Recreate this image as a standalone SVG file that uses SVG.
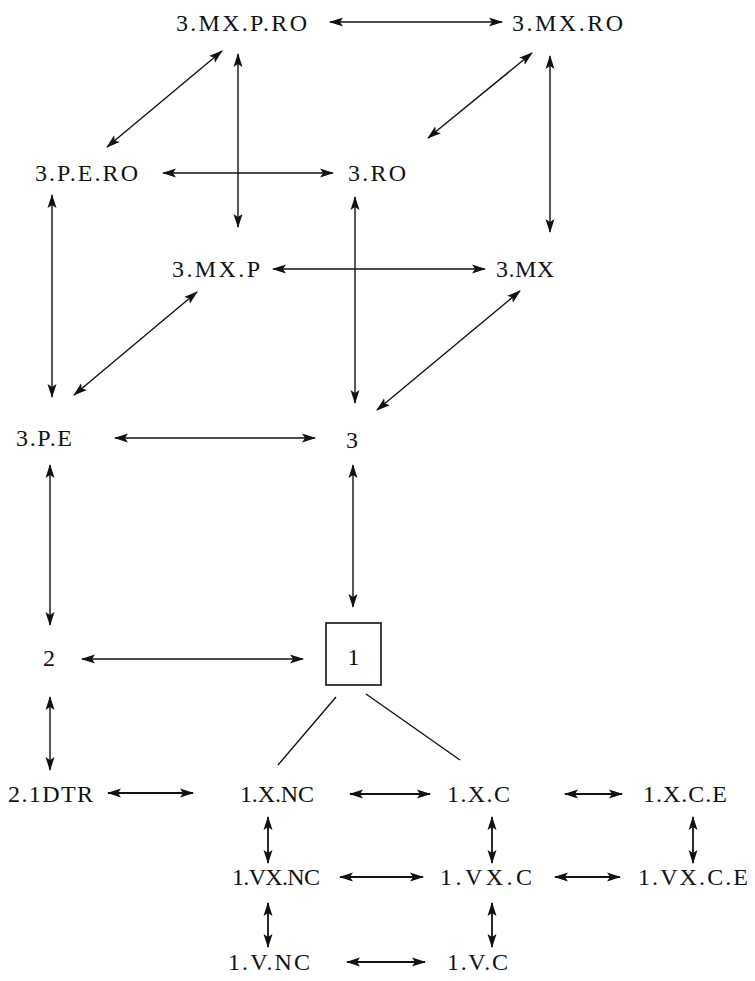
<svg xmlns="http://www.w3.org/2000/svg" width="755" height="981" viewBox="0 0 755 981">
<style>
text{font-family:"Liberation Serif","Times New Roman",serif;font-size:24px;fill:#111}
.c line{stroke:#111;stroke-width:1.4;fill:none}
.c .a{marker-start:url(#ah);marker-end:url(#ah)}
.c .b{stroke-width:1.8}
.box{fill:#fff;stroke:#111;stroke-width:1.6}
</style>
<defs>
<marker id="ah" markerUnits="userSpaceOnUse" markerWidth="14" markerHeight="10" refX="13" refY="4.5" orient="auto-start-reverse" viewBox="0 0 14 9">
<path d="M0,0 L14,4.5 L0,9 L3,4.5 z" fill="#111"/>
</marker>
</defs>
<rect width="755" height="981" fill="#fff"/>
<g class="c" id="connectors">
<line class="a" x1="330" y1="22" x2="502" y2="22"/>
<line class="a" x1="222" y1="51" x2="107" y2="147"/>
<line class="a" x1="238" y1="54" x2="238" y2="227"/>
<line class="a" x1="532" y1="53" x2="428" y2="138"/>
<line class="a" x1="550" y1="56" x2="550" y2="232"/>
<line class="a" x1="163" y1="173" x2="333" y2="173"/>
<line class="a" x1="52" y1="195" x2="52" y2="397"/>
<line class="a" x1="355" y1="197" x2="355" y2="403"/>
<line class="a" x1="273" y1="269" x2="485" y2="269"/>
<line class="a" x1="197" y1="292" x2="74" y2="395"/>
<line class="a" x1="520" y1="291" x2="377" y2="410"/>
<line class="a" x1="115" y1="438" x2="315" y2="438"/>
<line class="a" x1="353" y1="465" x2="353" y2="607"/>
<line class="a" x1="50" y1="465" x2="50" y2="625"/>
<line class="a" x1="82" y1="659" x2="303" y2="659"/>
<line class="a" x1="50" y1="697" x2="50" y2="770"/>
<line x1="336" y1="697" x2="278" y2="765"/>
<line x1="366" y1="694" x2="460" y2="760"/>
<line class="a b" x1="108" y1="793" x2="193" y2="793"/>
<line class="a b" x1="350" y1="794" x2="430" y2="794"/>
<line class="a b" x1="565" y1="794" x2="622" y2="794"/>
<line class="a b" x1="268" y1="817" x2="268" y2="863"/>
<line class="a b" x1="492" y1="817" x2="492" y2="863"/>
<line class="a b" x1="693" y1="817" x2="693" y2="863"/>
<line class="a b" x1="340" y1="877" x2="423" y2="877"/>
<line class="a b" x1="555" y1="877" x2="620" y2="877"/>
<line class="a b" x1="268" y1="903" x2="268" y2="947"/>
<line class="a b" x1="492" y1="903" x2="492" y2="947"/>
<line class="a b" x1="347" y1="962" x2="425" y2="962"/>
</g>
<g id="n-3MXPRO"><text x="176" y="31" textLength="131" lengthAdjust="spacing">3.MX.P.RO</text></g>
<g id="n-3MXRO"><text x="512" y="31" textLength="111" lengthAdjust="spacing">3.MX.RO</text></g>
<g id="n-3PERO"><text x="35" y="181" textLength="103" lengthAdjust="spacing">3.P.E.RO</text></g>
<g id="n-3RO"><text x="348" y="181" textLength="58" lengthAdjust="spacing">3.RO</text></g>
<g id="n-3MXP"><text x="172" y="277" textLength="88" lengthAdjust="spacing">3.MX.P</text></g>
<g id="n-3MX"><text x="496" y="277" textLength="58" lengthAdjust="spacing">3.MX</text></g>
<g id="n-3PE"><text x="16" y="446" textLength="56" lengthAdjust="spacing">3.P.E</text></g>
<g id="n-3"><text x="346" y="448">3</text></g>
<g id="n-2"><text x="43" y="666">2</text></g>
<g id="n-1"><rect class="box" x="326" y="623" width="55" height="62"/><text x="353.5" y="665" text-anchor="middle">1</text></g>
<g id="n-21DTR"><text x="8" y="802" textLength="85" lengthAdjust="spacing">2.1DTR</text></g>
<g id="n-1XNC"><text x="240" y="802" textLength="74" lengthAdjust="spacing">1.X.NC</text></g>
<g id="n-1XC"><text x="447" y="802" textLength="63" lengthAdjust="spacing">1.X.C</text></g>
<g id="n-1XCE"><text x="643" y="802" textLength="84" lengthAdjust="spacing">1.X.C.E</text></g>
<g id="n-1VXNC"><text x="232" y="885" textLength="88" lengthAdjust="spacing">1.VX.NC</text></g>
<g id="n-1VXC"><text x="440" y="885" textLength="92" lengthAdjust="spacing">1.VX.C</text></g>
<g id="n-1VXCE"><text x="638" y="885" textLength="110" lengthAdjust="spacing">1.VX.C.E</text></g>
<g id="n-1VNC"><text x="228" y="970" textLength="82" lengthAdjust="spacing">1.V.NC</text></g>
<g id="n-1VC"><text x="447" y="970" textLength="61" lengthAdjust="spacing">1.V.C</text></g>
</svg>
